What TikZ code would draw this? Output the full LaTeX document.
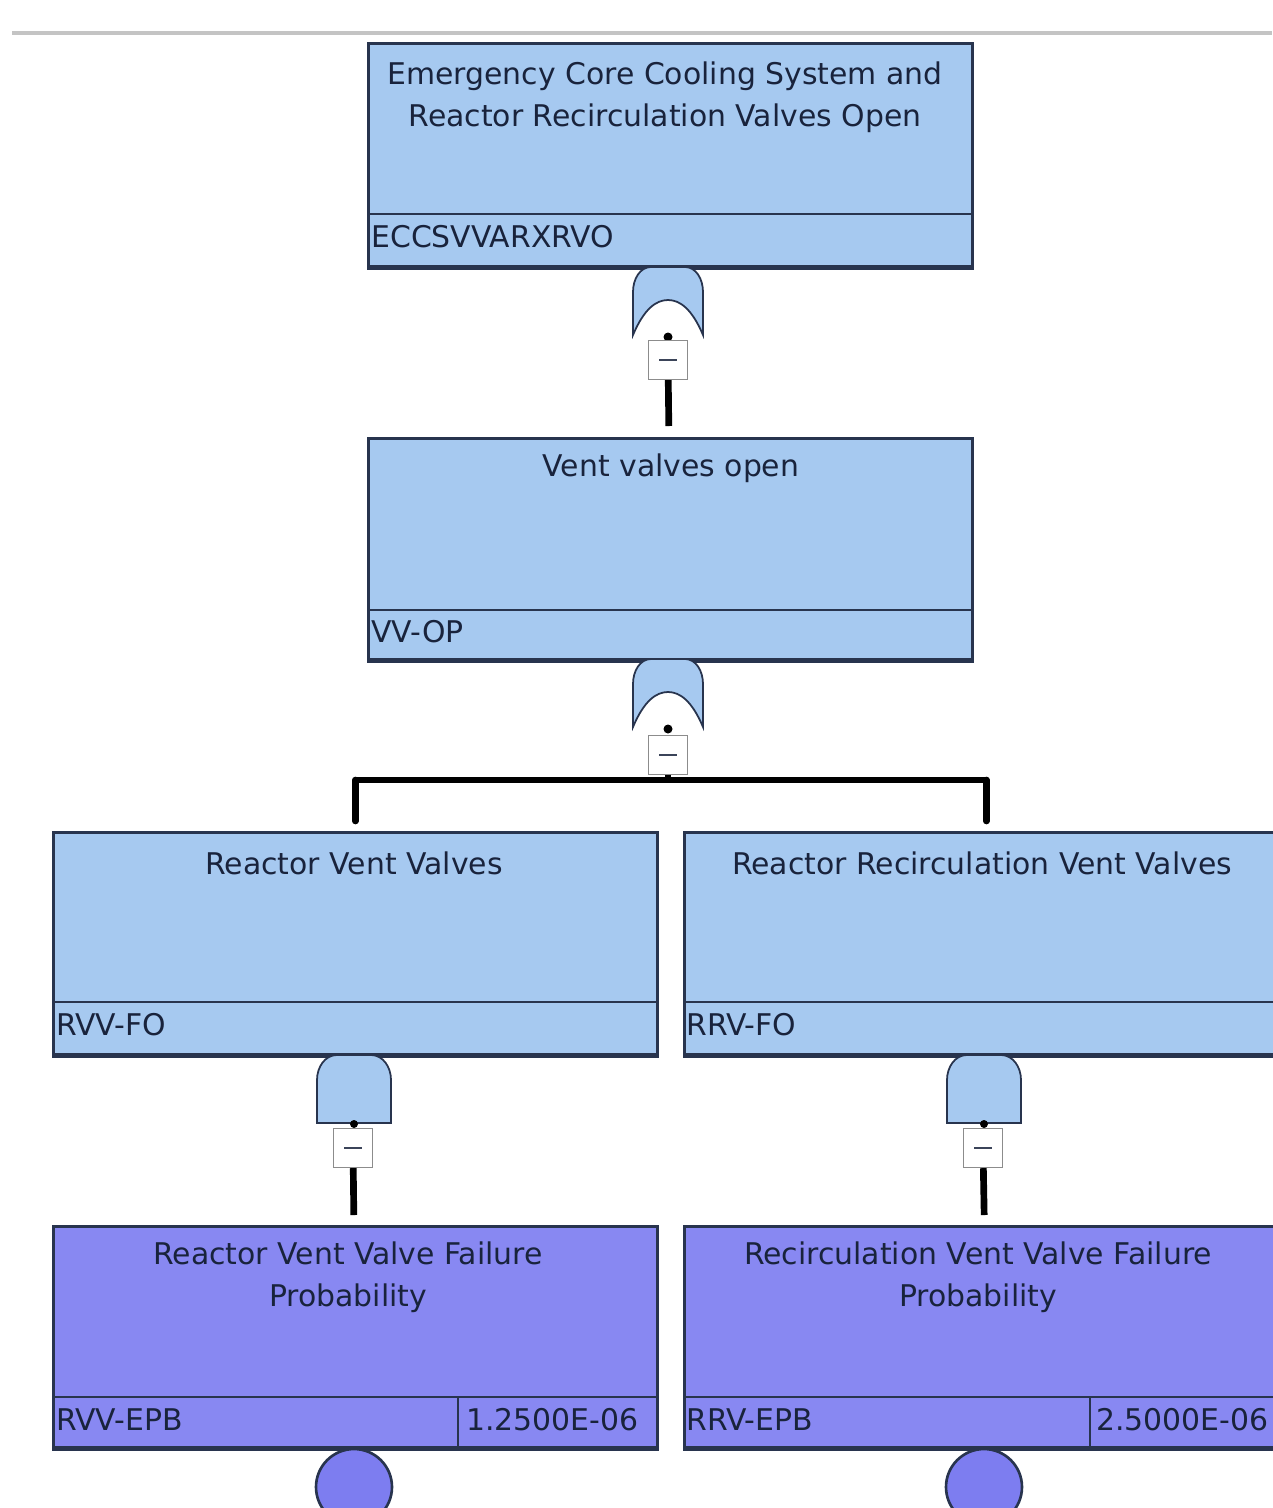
\documentclass[tikz,border=0pt]{standalone}
\usepackage{fontspec}
\setmainfont{DejaVu Sans}
\usepackage{tikz}
\usetikzlibrary{positioning,arrows.meta}

\definecolor{evfill}{RGB}{166,201,240}
\definecolor{befill}{RGB}{136,136,242}
\definecolor{bccolor}{RGB}{125,125,240}
\definecolor{boxline}{RGB}{40,52,78}
\definecolor{txt}{RGB}{25,35,60}
\definecolor{rulegray}{RGB}{196,196,196}

\tikzset{
  evbox/.style={rectangle, draw=boxline, fill=evfill, line width=1.6pt, inner sep=0pt,
    anchor=north west, minimum width=12.08cm},
  bebox/.style={evbox, fill=befill},
  title/.style={text=txt, font=\fontsize{17}{23.8}\selectfont, align=center, inner sep=0pt},
  tag/.style={text=txt, font=\fontsize{17}{20}\selectfont, anchor=west, inner sep=0pt},
  sep/.style={draw=boxline, line width=1.2pt},
  base/.style={draw=boxline, line width=2.8pt},
  minusbox/.style={rectangle, draw=black!45, fill=white, line width=0.8pt,
    minimum width=0.78cm, minimum height=0.78cm, inner sep=0pt},
  conn/.style={draw=black, line width=3.8pt, line join=round},
  orgate/.pic={
    \draw[boxline, fill=evfill, line width=1pt]
      (-17,0) -- (17,0) .. controls (28,0) and (35,12) .. (35,25) -- (35,68)
      .. controls (24,42) and (12,33) .. (0,33) .. controls (-12,33) and (-24,42) .. (-35,68)
      -- (-35,25) .. controls (-35,12) and (-28,0) .. (-17,0) -- cycle;
    \draw[black, line width=1.6pt] (0,70) -- (0,74);
    \fill[black] (0,70) circle (4.5);
  },
  andgate/.pic={
    \draw[boxline, fill=evfill, line width=1pt]
      (-17,0) -- (17,0) .. controls (29,0) and (37,12) .. (37,25) -- (37,68)
      -- (-37,68) -- (-37,25) .. controls (-37,12) and (-29,0) .. (-17,0) -- cycle;
    \fill[black] (0,69) circle (4);
  },
  bevent/.style={circle, draw=boxline, fill=bccolor, line width=1.5pt, minimum size=1.52cm, inner sep=0pt}
}
\newcommand{\minusbar}{\textcolor{txt!85}{\rule[0pt]{0.36cm}{1.6pt}}}

\begin{document}
\begin{tikzpicture}[x=0.02cm, y=-0.02cm]
    \useasboundingbox[fill=white] (0,0) rectangle (1272,1508);
    \draw[rulegray, line width=2pt] (12,33) -- (1272,33);

    % top event
    \node[evbox, minimum height=4.46cm] (eccs) at (367,42) {};
    \draw[sep] (eccs.west |- 0,214) -- (eccs.east |- 0,214);
    \draw[base] (eccs.south west) -- (eccs.south east);
    \node[title] (eccs-t) at (665,97) {Emergency Core Cooling System and\\Reactor Recirculation Valves Open};
    \node[tag] (eccs-id) at (371,237) {ECCSVVARXRVO};

    \coordinate (g1) at (668,267);
    \pic at (g1) {orgate};
    \node[minusbox] (m1) at (668,360) {\minusbar};

    % vent valves open
    \node[evbox, minimum height=4.42cm] (vv) at (367,437) {};
    \draw[sep] (vv.west |- 0,610) -- (vv.east |- 0,610);
    \draw[base] (vv.south west) -- (vv.south east);
    \node[title] (vv-t) at (671,468) {Vent valves open};
    \node[tag] (vv-id) at (371,632) {VV-OP};

    \coordinate (g2) at (668,659);
    \pic at (g2) {orgate};
    \node[minusbox] (m2) at (668,755) {\minusbar};
    \coordinate (bar) at (668,780);

    % second level
    \node[evbox, minimum height=4.44cm] (rvv) at (52,831) {};
    \draw[sep] (rvv.west |- 0,1002) -- (rvv.east |- 0,1002);
    \draw[base] (rvv.south west) -- (rvv.south east);
    \node[title] (rvv-t) at (354,863) {Reactor Vent Valves};
    \node[tag] (rvv-id) at (56,1025) {RVV-FO};

    \node[evbox, minimum height=4.44cm] (rrv) at (683,831) {};
    \draw[sep] (rrv.west |- 0,1002) -- (rrv.east |- 0,1002);
    \draw[base] (rrv.south west) -- (rrv.south east);
    \node[title] (rrv-t) at (982,863) {Reactor Recirculation Vent Valves};
    \node[tag] (rrv-id) at (686,1025) {RRV-FO};

    \coordinate (g3) at (354,1055);
    \pic at (g3) {andgate};
    \node[minusbox] (m3) at (353,1148) {\minusbar};
    \coordinate (g4) at (984,1055);
    \pic at (g4) {andgate};
    \node[minusbox] (m4) at (983,1148) {\minusbar};

    % basic events
    \node[bebox, minimum height=4.42cm] (rvvp) at (52,1225) {};
    \draw[sep] (rvvp.west |- 0,1397) -- (rvvp.east |- 0,1397);
    \draw[sep] (458,1397) -- (rvvp.south -| 458,0);
    \draw[base] (rvvp.south west) -- (rvvp.south east);
    \node[title] (rvvp-t) at (348,1277) {Reactor Vent Valve Failure\\Probability};
    \node[tag] (rvvp-id) at (56,1420) {RVV-EPB};
    \node[tag] (rvvp-p) at (466,1420) {1.2500E-06};

    \node[bebox, minimum height=4.42cm] (rrvp) at (683,1225) {};
    \draw[sep] (rrvp.west |- 0,1397) -- (rrvp.east |- 0,1397);
    \draw[sep] (1090,1397) -- (rrvp.south -| 1090,0);
    \draw[base] (rrvp.south west) -- (rrvp.south east);
    \node[title] (rrvp-t) at (978,1277) {Recirculation Vent Valve Failure\\Probability};
    \node[tag] (rrvp-id) at (686,1420) {RRV-EPB};
    \node[tag] (rrvp-p) at (1096,1420) {2.5000E-06};

    \node[bevent] (c1) at (354,1487) {};
    \node[bevent] (c2) at (984,1487) {};

    \path[conn]
        (m1) edge[shorten >=0.22cm] (vv)
        (m3) edge[shorten >=0.2cm] (rvvp)
        (m4) edge[shorten >=0.2cm] (rrvp);
    \draw[conn] (m2) -- (bar);
    \draw[conn] (rvv.north |- bar) -- (rrv.north |- bar);
    \path[conn, line cap=round]
        (rvv.north |- bar) edge[shorten >=0.2cm] (rvv)
        (rrv.north |- bar) edge[shorten >=0.2cm] (rrv);
\end{tikzpicture}
\end{document}
